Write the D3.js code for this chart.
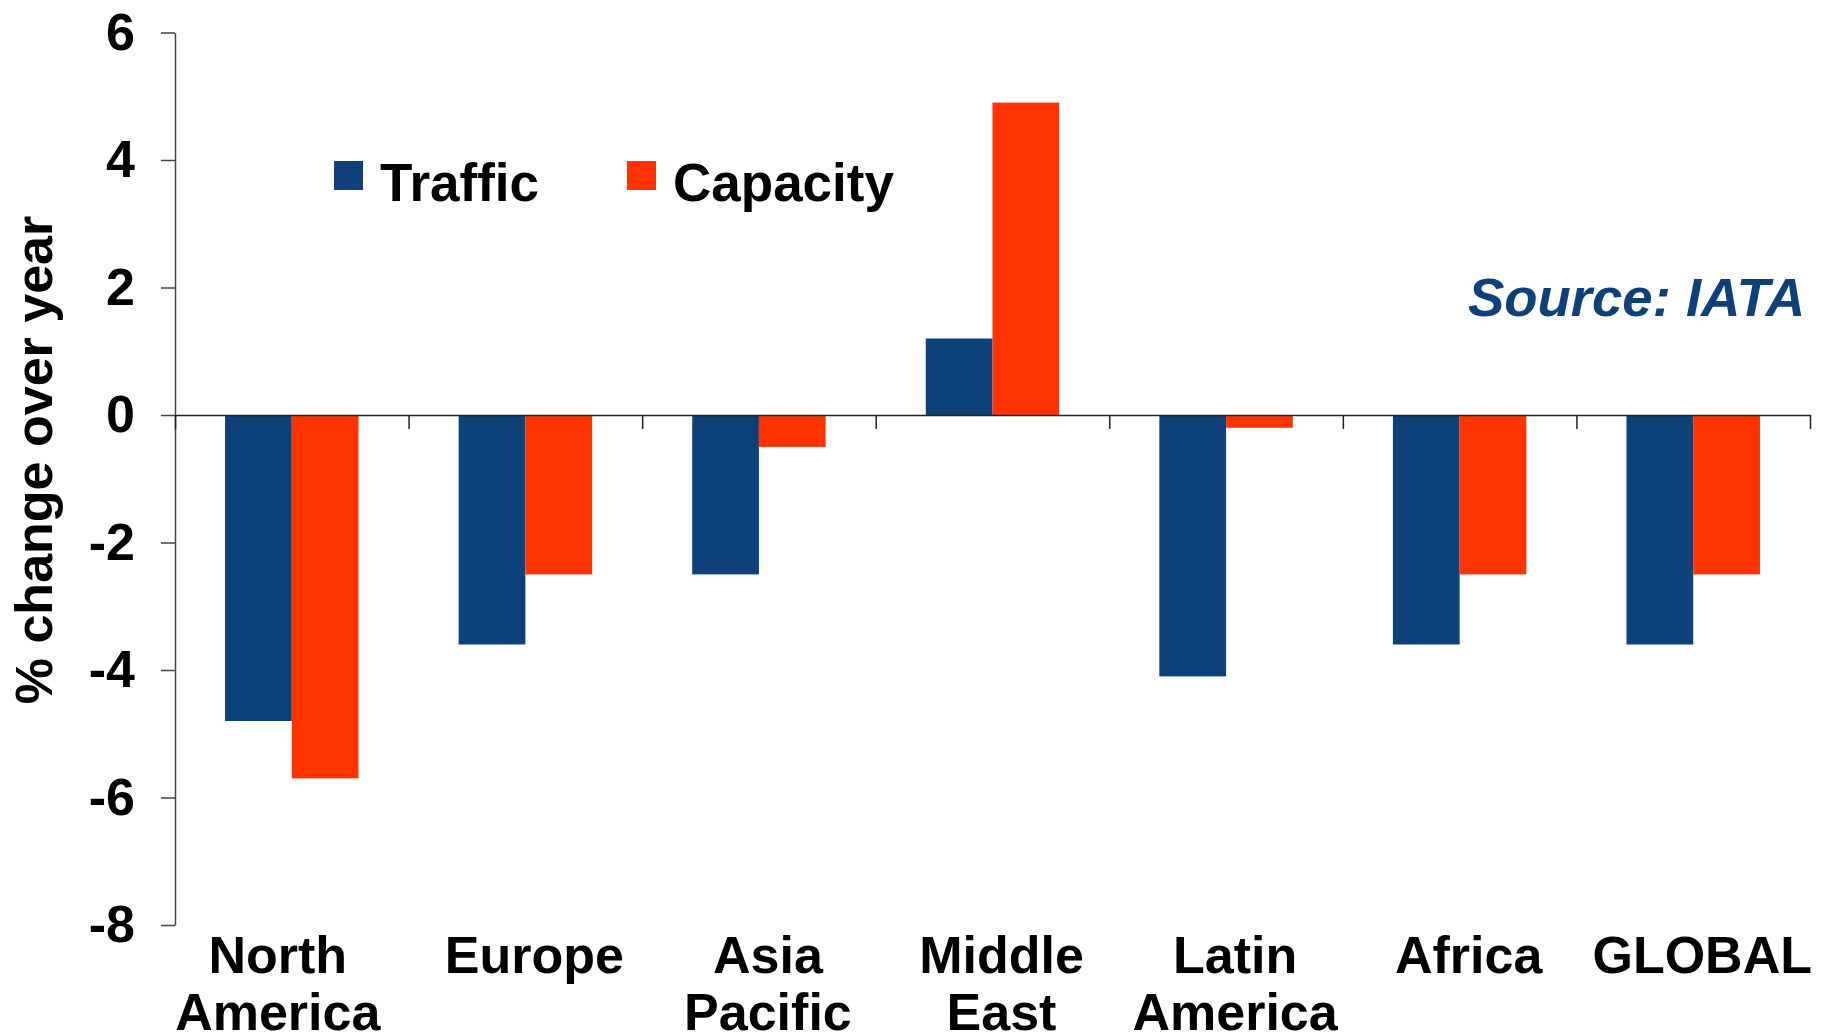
<!DOCTYPE html>
<html>
<head>
<meta charset="utf-8">
<script src="https://cdn.jsdelivr.net/npm/d3@7"></script>
<style>
  body { margin: 0; background: #fff; }
  svg { display: block; font-family: "Liberation Sans", Arial, sans-serif; font-weight: bold; }
</style>
</head>
<body>
<svg id="chart" width="1827" height="1035"></svg>
<script>
const regions = [["North", "America"], ["Europe"], ["Asia", "Pacific"], ["Middle", "East"], ["Latin", "America"], ["Africa"], ["GLOBAL"]];
const series = ["Traffic", "Capacity"];
const traffic = [-4.8, -3.6, -2.5, 1.2, -4.1, -3.6, -3.6];
const capacity = [-5.7, -2.5, -0.5, 4.9, -0.2, -2.5, -2.5];
const yTicks = [6, 4, 2, 0, -2, -4, -6, -8];
const colors = { Traffic: "#0e4179", Capacity: "#ff3300" };

const svg = d3.select("#chart");
const left = 175, right = 1810;

const x = d3.scaleBand().domain(d3.range(regions.length)).range([left, right]).padding(0);
const x1 = d3.scaleBand().domain(series).range([0, x.bandwidth()]).paddingInner(0).paddingOuter(0.75);
const y = d3.scaleLinear().domain([-8, 6]).range([925, 32.5]);

const rows = regions.map((r, i) => ({ i, Traffic: traffic[i], Capacity: capacity[i] }));

// bars
const groups = svg.append("g").selectAll("g")
  .data(rows)
  .enter().append("g")
  .attr("transform", d => `translate(${x(d.i)},0)`);

groups.selectAll("rect")
  .data(d => series.map(s => ({ key: s, value: d[s] })))
  .enter().append("rect")
  .attr("x", d => x1(d.key))
  .attr("width", x1.bandwidth())
  .attr("y", d => y(Math.max(0, d.value)))
  .attr("height", d => Math.abs(y(d.value) - y(0)))
  .attr("fill", d => colors[d.key]);

// y axis (plain hyphen for negatives, like the original)
const yAxis = svg.append("g")
  .attr("transform", `translate(${left},0)`)
  .call(d3.axisLeft(y).tickValues(yTicks).tickSize(14).tickSizeOuter(0).tickPadding(26)
    .tickFormat(d => String(d)));
yAxis.select(".domain").attr("stroke", "#444").attr("stroke-width", 1.5);
yAxis.selectAll(".tick line").attr("stroke", "#444").attr("stroke-width", 1.5);
yAxis.selectAll(".tick text")
  .attr("font-size", 52).attr("font-weight", "bold").attr("fill", "#000")
  .attr("font-family", "'Liberation Sans', Arial, sans-serif");

// zero line with category separators
const xb = d3.scaleLinear().domain([0, regions.length]).range([left, right]);
const xAxis = svg.append("g")
  .attr("transform", `translate(0,${y(0)})`)
  .call(d3.axisBottom(xb).tickValues(d3.range(regions.length + 1)).tickSize(14).tickSizeOuter(0).tickFormat(""));
xAxis.select(".domain").attr("stroke", "#222").attr("stroke-width", 1.5);
xAxis.selectAll(".tick line").attr("stroke", "#222").attr("stroke-width", 1.5);

// category labels
const labels = svg.append("g").selectAll("text")
  .data(regions)
  .enter().append("text")
  .attr("x", (d, i) => x(i) + x.bandwidth() / 2 + (i === 0 ? -14 : 9))
  .attr("y", 973)
  .attr("text-anchor", "middle")
  .attr("font-size", 52)
  .attr("fill", "#000");
labels.selectAll("tspan")
  .data(d => d)
  .enter().append("tspan")
  .attr("x", function () { return this.parentNode.getAttribute("x"); })
  .attr("dy", (d, i) => i === 0 ? 0 : 57)
  .text(d => d);

// y title
svg.append("text")
  .attr("transform", "translate(52,460) rotate(-90)")
  .attr("text-anchor", "middle")
  .attr("font-size", 52)
  .attr("fill", "#000")
  .text("% change over year");

// legend
const legendX = [334, 627];
series.forEach((s, i) => {
  svg.append("rect")
    .attr("x", legendX[i]).attr("y", 161)
    .attr("width", 29).attr("height", 29)
    .attr("fill", colors[s]);
  svg.append("text")
    .attr("x", legendX[i] + 46).attr("y", 201)
    .attr("font-size", 53)
    .attr("fill", "#000")
    .text(s);
});

// source note
svg.append("text")
  .attr("x", 1805).attr("y", 316)
  .attr("text-anchor", "end")
  .attr("font-size", 54.5)
  .attr("font-style", "italic")
  .attr("fill", "#0e4179")
  .text("Source: IATA");
</script>
</body>
</html>
